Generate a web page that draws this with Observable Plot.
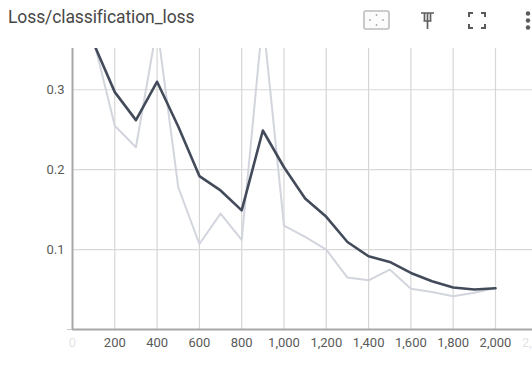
<!DOCTYPE html>
<html>
<head>
<meta charset="utf-8">
<script src="https://cdn.jsdelivr.net/npm/d3@7"></script>
<script src="https://cdn.jsdelivr.net/npm/@observablehq/plot@0.6"></script>
<style>
  html, body { margin: 0; padding: 0; background: #fff; }
  body { width: 532px; height: 365px; overflow: hidden; font-family: Roboto, "Noto Sans", sans-serif; }
  #header { position: relative; height: 40px; }
  #title { position: absolute; left: 8px; top: 7px; font-size: 17.5px; color: #474747; letter-spacing: -0.1px; }
  .icon { position: absolute; top: 10px; }
  #chart svg { display: block; }
</style>
</head>
<body>
<div id="header">
  <div id="title">Loss/classification_loss</div>
  <svg class="icon" style="left:363px" width="28" height="21" viewBox="0 0 28 21">
    <rect x="1" y="1" width="25" height="18" rx="1.5" fill="#fbfbfb" stroke="#bdbdbd" stroke-width="1.6"/>
    <circle cx="13.5" cy="5" r="0.9" fill="#a8a8a8"/><circle cx="13.5" cy="15" r="0.9" fill="#a8a8a8"/>
    <circle cx="7" cy="10" r="0.9" fill="#a8a8a8"/><circle cx="20" cy="10" r="0.9" fill="#a8a8a8"/>
  </svg>
  <svg class="icon" style="left:419px" width="18" height="21" viewBox="0 0 18 21">
    <path d="M2 3 H15 M4.5 11 H12.5 M8.5 3 V19 M5.5 3 V11 M11.5 3 V11" fill="none" stroke="#5f5f5f" stroke-width="1.7"/>
  </svg>
  <svg class="icon" style="left:467px" width="21" height="21" viewBox="0 0 21 21">
    <path d="M2 7 V3 H6 M14 3 H18 V7 M18 14 V18 H14 M6 18 H2 V14" fill="none" stroke="#5a5a5a" stroke-width="2"/>
  </svg>
  <svg class="icon" style="left:524px" width="8" height="21" viewBox="0 0 8 21">
    <circle cx="4" cy="3.5" r="2.2" fill="#5a5a5a"/><circle cx="4" cy="10.5" r="2.2" fill="#5a5a5a"/><circle cx="4" cy="17.5" r="2.2" fill="#5a5a5a"/>
  </svg>
</div>
<div id="chart"></div>
<script>
const steps    = [100, 200, 300, 400, 500, 600, 700, 800, 900, 1000, 1100, 1200, 1300, 1400, 1500, 1600, 1700, 1800, 1900, 2000];
const raw      = [0.362, 0.255, 0.228, 0.38, 0.178, 0.107, 0.145, 0.112, 0.39, 0.130, 0.116, 0.100, 0.065, 0.0616, 0.075, 0.051, 0.047, 0.0416, 0.046, 0.052];
const smoothed = [0.358, 0.297, 0.262, 0.310, 0.254, 0.192, 0.174, 0.149, 0.249, 0.203, 0.164, 0.141, 0.1095, 0.0916, 0.0845, 0.0708, 0.0604, 0.0525, 0.050, 0.0516];
const xTicks = [200, 400, 600, 800, 1000, 1200, 1400, 1600, 1800, 2000];
const xFaintTicks = [0, 2200];
const yTicks = [0.1, 0.2, 0.3];

const rawData = steps.map((s, i) => ({step: s, value: raw[i]}));
const smoothData = steps.map((s, i) => ({step: s, value: smoothed[i]}));
const fmt = d3.format(",");

const chart = Plot.plot({
  width: 532,
  height: 325,
  marginLeft: 72,
  marginRight: 0,
  marginTop: 8,
  marginBottom: 36,
  style: {fontFamily: "Roboto, 'Noto Sans', sans-serif", fontSize: "13px", background: "#fff"},
  x: {domain: [0, 2175]},
  y: {domain: [0, 0.3516]},
  marks: [
    Plot.gridX(xTicks, {stroke: "#d6d6d6", strokeOpacity: 1, strokeWidth: 1.2}),
    Plot.gridY(yTicks, {stroke: "#d9d9d9", strokeOpacity: 1, strokeWidth: 1.2}),
    Plot.line(rawData, {x: "step", y: "value", stroke: "#d2d5dd", strokeWidth: 2, clip: true}),
    Plot.line(smoothData, {x: "step", y: "value", stroke: "#434b5b", strokeWidth: 2.6, clip: true}),
    Plot.ruleX([0], {stroke: "#a8a8a8", strokeWidth: 2}),
    Plot.ruleY([0], {stroke: "#a8a8a8", strokeWidth: 2}),
    Plot.axisX(xTicks, {tickSize: 0, tickPadding: 8, tickFormat: fmt, fill: "#5a5a5a", label: null}),
    Plot.axisX(xFaintTicks, {tickSize: 0, tickPadding: 8, tickFormat: fmt, fill: "#5a5a5a", fillOpacity: 0.2, label: null}),
    Plot.axisY(yTicks, {tickSize: 0, tickPadding: 8, tickFormat: d => String(d), fill: "#5a5a5a", label: null}),
    Plot.axisY([0], {tickSize: 5, tickPadding: 12, stroke: "#c8c8c8", tickFormat: () => "", label: null})
  ]
});
document.getElementById("chart").appendChild(chart);
</script>
</body>
</html>
